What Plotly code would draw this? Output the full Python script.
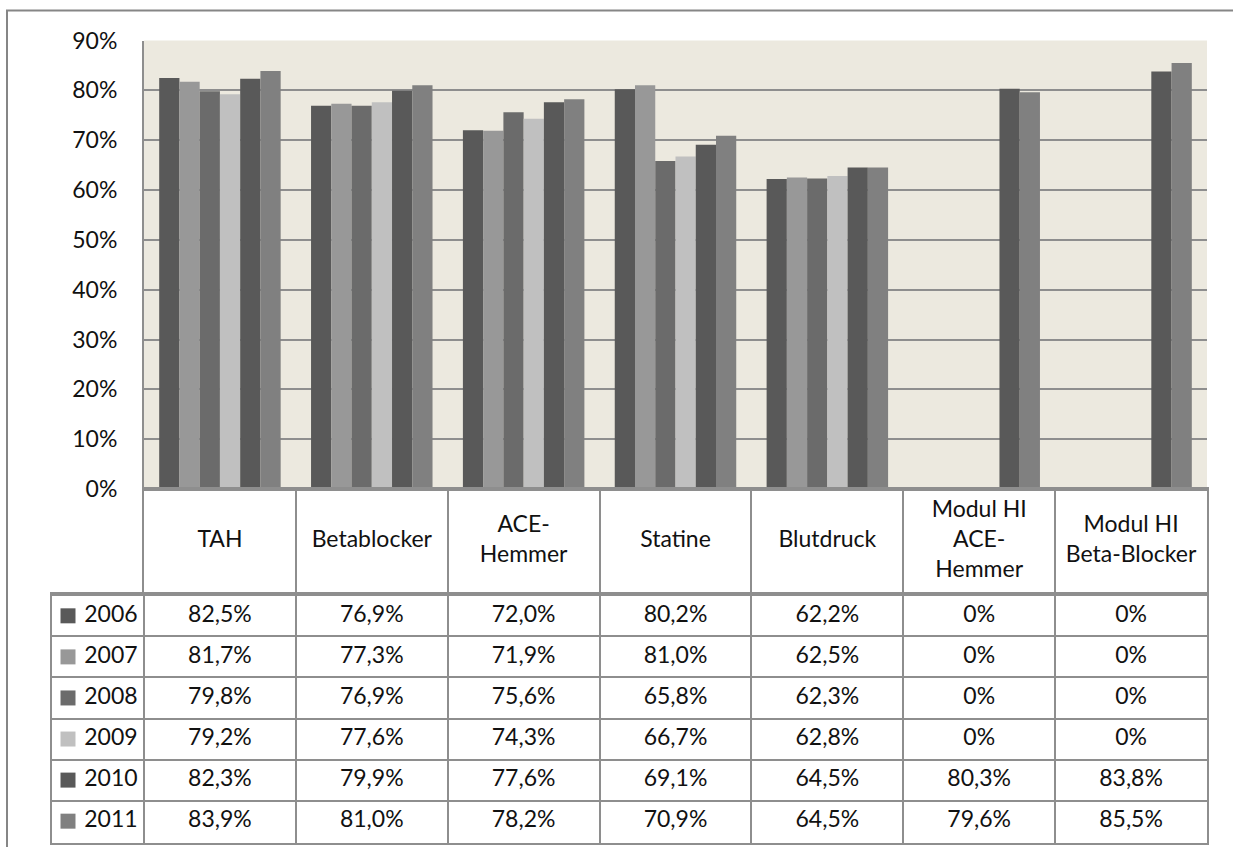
import plotly.graph_objects as go

# Indicator names (x categories) and the wrapped labels shown in the table header
categories = ["TAH", "Betablocker", "ACE-Hemmer", "Statine", "Blutdruck",
              "Modul HI ACE-Hemmer", "Modul HI Beta-Blocker"]
header_labels = ["TAH", "Betablocker", "ACE-<br>Hemmer", "Statine", "Blutdruck",
                 "Modul HI<br>ACE-<br>Hemmer", "Modul HI<br>Beta-Blocker"]

years = ["2006", "2007", "2008", "2009", "2010", "2011"]

# Percentages per year, in category order
v2006 = [82.5, 76.9, 72.0, 80.2, 62.2, 0, 0]
v2007 = [81.7, 77.3, 71.9, 81.0, 62.5, 0, 0]
v2008 = [79.8, 76.9, 75.6, 65.8, 62.3, 0, 0]
v2009 = [79.2, 77.6, 74.3, 66.7, 62.8, 0, 0]
v2010 = [82.3, 79.9, 77.6, 69.1, 64.5, 80.3, 83.8]
v2011 = [83.9, 81.0, 78.2, 70.9, 64.5, 79.6, 85.5]
series = [v2006, v2007, v2008, v2009, v2010, v2011]

colors = ["#595959", "#989898", "#6b6b6b", "#c0c0c0", "#595959", "#808080"]

y_ticks = [0, 10, 20, 30, 40, 50, 60, 70, 80, 90]

FONT = "Lato, 'Open Sans', sans-serif"
GRID = "#8e8e8e"
TXT = "#111111"
FS = 23

W, H = 1233, 847
def px_x(p):
    return p / W
def px_y(p):
    return (H - p) / H

x_left_tab, x_left, x_right = 52, 144, 1207
y_top, y_zero, y_head, y_bottom = 40.5, 489, 594, 843

n = len(categories)
col_w = (x_right - x_left) / n
label_w = (x_left - x_left_tab) / col_w  # label column width in category units


def fmt(v):
    if v == 0:
        return "0%"
    return f"{v:.1f}".replace(".", ",") + "%"


fig = go.Figure()

# Bars
for yr, vals, c in zip(years, series, colors):
    fig.add_trace(go.Bar(
        x=categories, y=[v / 100 for v in vals], name=yr,
        marker=dict(color=c, line=dict(width=0)),
        xaxis="x", yaxis="y", showlegend=False, hoverinfo="skip",
    ))

# Header row with category names
fig.add_trace(go.Scatter(
    x=categories, y=[0] * n, text=header_labels, mode="text",
    textposition="middle center",
    textfont=dict(family=FONT, size=FS, color=TXT),
    xaxis="x2", yaxis="y2", showlegend=False, hoverinfo="skip",
))

# Data rows of the table
idx = list(range(n))
for yr, vals in zip(years, series):
    fig.add_trace(go.Scatter(
        x=idx, y=[yr] * n, text=[fmt(v) for v in vals], mode="text",
        textposition="middle center",
        textfont=dict(family=FONT, size=FS, color=TXT),
        xaxis="x3", yaxis="y3", showlegend=False, hoverinfo="skip",
    ))

# Legend keys in the first table column
key_x = -0.5 - label_w + 16 / col_w
fig.add_trace(go.Scatter(
    x=[key_x] * len(years), y=years, text=years, mode="markers+text",
    texttemplate=" %{text}",
    marker=dict(symbol="square", size=15, color=colors, line=dict(width=0)),
    textposition="middle right",
    textfont=dict(family=FONT, size=FS, color=TXT),
    xaxis="x3", yaxis="y3", showlegend=False, hoverinfo="skip",
))

axis_common = dict(automargin=False, zeroline=False, fixedrange=True)

fig.update_layout(
    template="none",
    width=W, height=H,
    margin=dict(l=0, r=0, t=0, b=0, pad=0, autoexpand=False),
    paper_bgcolor="white",
    plot_bgcolor="white",
    font=dict(family=FONT, size=FS, color=TXT),
    barmode="group", bargap=0.2, bargroupgap=0,
    showlegend=False,
    xaxis=dict(
        domain=[px_x(x_left), px_x(x_right)],
        anchor="y", type="category", categoryarray=categories,
        range=[-0.5, n - 0.5], showticklabels=False, ticks="",
        showgrid=False, showline=True, linecolor=GRID, linewidth=2,
        **axis_common,
    ),
    yaxis=dict(
        domain=[px_y(y_zero), px_y(y_top)],
        anchor="x", range=[0, 0.9], tickvals=[t / 100 for t in y_ticks],
        tickformat=".0%", showgrid=True, gridcolor=GRID, gridwidth=2,
        showline=True, linecolor=GRID, linewidth=2,
        ticks="", ticklabelstandoff=20,
        tickfont=dict(family=FONT, size=FS, color=TXT),
        **axis_common,
    ),
    xaxis2=dict(
        domain=[px_x(x_left), px_x(x_right)],
        anchor="y2", type="category", categoryarray=categories,
        range=[-0.5, n - 0.5], tickson="boundaries", ticks="",
        showticklabels=False, showgrid=True, gridcolor=GRID, gridwidth=2,
        showline=True, mirror=True, linecolor=GRID, linewidth=2,
        **axis_common,
    ),
    yaxis2=dict(
        domain=[px_y(y_head), px_y(y_zero)],
        anchor="x2", range=[-1, 1], showticklabels=False, showgrid=False,
        showline=True, mirror=True, linecolor=GRID, linewidth=2,
        **axis_common,
    ),
    xaxis3=dict(
        domain=[px_x(x_left_tab), px_x(x_right)],
        anchor="y3", range=[-0.5 - label_w, n - 0.5],
        tickvals=[-0.5 - label_w] + [i - 0.5 for i in range(n + 1)],
        showticklabels=False, ticks="", showgrid=True, gridcolor=GRID,
        gridwidth=2, showline=True, mirror=True, linecolor=GRID,
        linewidth=2, **axis_common,
    ),
    yaxis3=dict(
        domain=[px_y(y_bottom), px_y(y_head)],
        anchor="x3", type="category", categoryarray=years,
        autorange="reversed", tickson="boundaries", ticks="",
        showticklabels=False, showgrid=True, gridcolor=GRID, gridwidth=2,
        showline=True, mirror=True, linecolor=GRID, linewidth=2,
        **axis_common,
    ),
    shapes=[
        # beige fill behind the bar plot area only
        dict(type="rect", xref="x domain", yref="y domain",
             x0=0, x1=1, y0=0, y1=1, fillcolor="#ECE9DF",
             line=dict(width=0), layer="below"),
        # outer chart frame
        dict(type="rect", xref="paper", yref="paper",
             x0=px_x(7), x1=1.02, y0=-0.02, y1=px_y(10.5),
             line=dict(color="#868686", width=2),
             fillcolor="rgba(0,0,0,0)", layer="below"),
    ],
)

fig.write_html("out.html", config={"displayModeBar": False})
